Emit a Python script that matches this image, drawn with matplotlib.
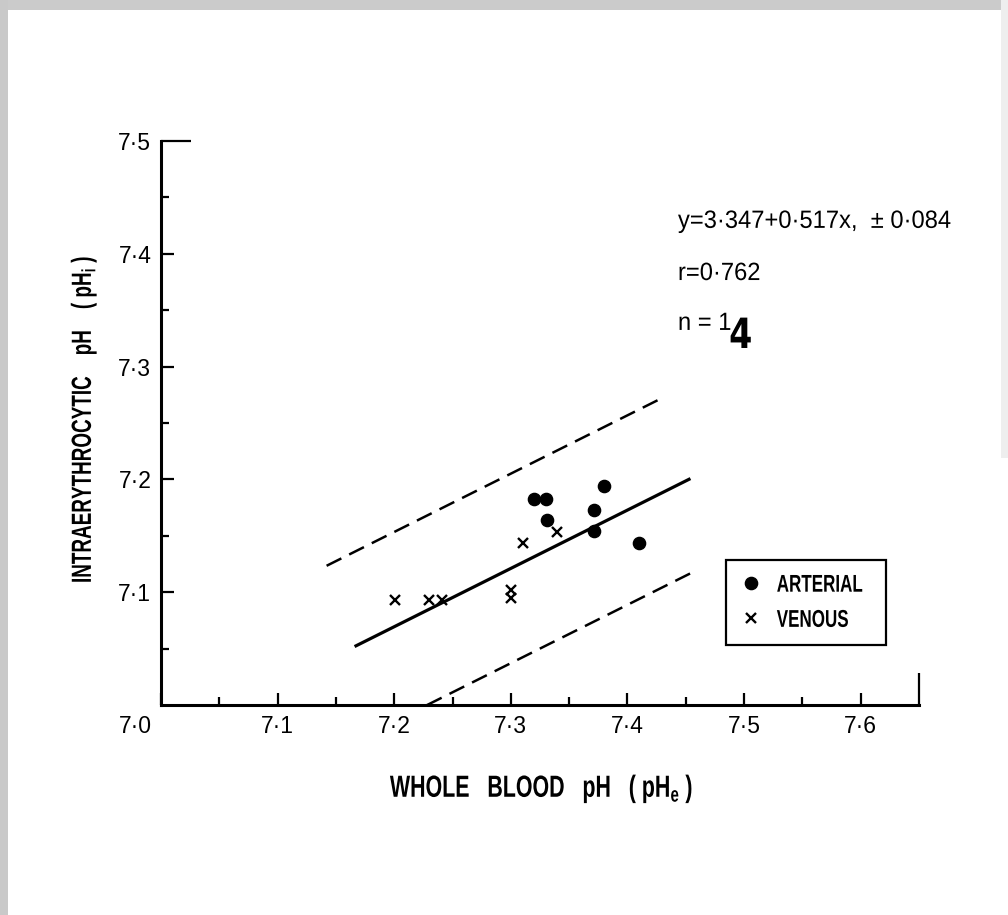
import matplotlib
matplotlib.use("Agg")
import numpy as np
import matplotlib.pyplot as plt
from matplotlib.patheffects import AbstractPathEffect
from matplotlib.transforms import Affine2D, ScaledTranslation
from matplotlib.patches import Rectangle

# ---- data -------------------------------------------------------------
arterial_phe = [7.320, 7.330, 7.331, 7.380, 7.371, 7.371, 7.410]
arterial_phi = [7.183, 7.183, 7.164, 7.194, 7.173, 7.154, 7.144]
venous_phe = [7.201, 7.230, 7.241, 7.300, 7.300, 7.310, 7.340]
venous_phi = [7.093, 7.093, 7.093, 7.102, 7.095, 7.144, 7.153]

# regression pHi = a + b * pHe, with the +/- band
fit_intercept = 3.347
fit_slope = 0.517
fit_band = 0.084
fit_range = [7.166, 7.454]
upper_range = [7.142, 7.427]
lower_range = [7.228, 7.455]

x_major = [7.0, 7.1, 7.2, 7.3, 7.4, 7.5, 7.6, 7.65]
x_major_labels = ["7·0", "7·1", "7·2", "7·3", "7·4", "7·5", "7·6", ""]
x_minor = [7.05, 7.15, 7.25, 7.35, 7.45, 7.55]
y_major = [7.1, 7.2, 7.3, 7.4, 7.5]
y_major_labels = ["7·1", "7·2", "7·3", "7·4", "7·5"]
y_minor = [7.05, 7.15, 7.25, 7.35, 7.45]

series_labels = ["ARTERIAL", "VENOUS"]
equation_text = "y=3·347+0·517x,  ± 0·084"
r_text = "r=0·762"
n_text = "n = 1"
n_correction = "4"


class Squeeze(AbstractPathEffect):
    """Draw text horizontally condensed, like narrow stencil lettering."""

    def __init__(self, factor):
        super().__init__()
        self._factor = factor

    def draw_path(self, renderer, gc, tpath, affine, rgbFace=None):
        renderer.draw_path(gc, tpath, Affine2D().scale(self._factor, 1.0) + affine, rgbFace)


plt.rcParams["font.family"] = ["Liberation Sans", "DejaVu Sans"]
plt.rcParams["mathtext.default"] = "regular"

fig = plt.figure(figsize=(10.08, 9.15), dpi=100)
fig.patch.set_facecolor("white")

# scanned page edges
fig.add_artist(Rectangle((0, 1 - 10 / 915), 1, 10 / 915, transform=fig.transFigure,
                         facecolor="#cbcbcb", edgecolor="none", zorder=0))
fig.add_artist(Rectangle((0, 0), 8 / 1008, 1, transform=fig.transFigure,
                         facecolor="#c9c9c9", edgecolor="none", zorder=0))
fig.add_artist(Rectangle((1 - 7 / 1008, 0.5), 7 / 1008, 0.5, transform=fig.transFigure,
                         facecolor="#eeeeee", edgecolor="none", zorder=0))

ax = fig.add_axes([161 / 1008, 1 - 705 / 915, 758 / 1008, 564 / 915])
ax.set_facecolor("none")
ax.set_xlim(7.0, 7.65)
ax.set_ylim(7.0, 7.5)

for side in ("top", "right"):
    ax.spines[side].set_visible(False)
for side in ("left", "bottom"):
    ax.spines[side].set_linewidth(2.2)
    ax.spines[side].set_capstyle("projecting")

ax.set_xticks(x_major)
ax.set_xticklabels(x_major_labels)
ax.set_xticks(x_minor, minor=True)
ax.set_yticks(y_major)
ax.set_yticklabels(y_major_labels)
ax.set_yticks(y_minor, minor=True)
ax.tick_params(which="major", direction="in", length=9, width=1.6, labelsize=16.5)
ax.tick_params(which="minor", direction="in", length=5.5, width=1.6)
ax.tick_params(axis="x", which="major", pad=7)
ax.tick_params(axis="y", which="major", pad=7)

# long end marks: top of the y axis and right end of the x axis
ax.yaxis.get_major_ticks()[-1].tick1line.set_markersize(21.5)
ax.xaxis.get_major_ticks()[-1].tick1line.set_markersize(23)
# the origin label sits left of the corner
origin_label = ax.xaxis.get_major_ticks()[0].label1
origin_label.set_transform(origin_label.get_transform()
                           + ScaledTranslation(-0.26, 0, fig.dpi_scale_trans))

# regression line and +/- band
fx = np.array(fit_range)
ax.plot(fx, fit_intercept + fit_slope * fx, color="black", lw=2.3,
        solid_capstyle="butt", zorder=2)
ux = np.array(upper_range)
ax.plot(ux, fit_intercept + fit_slope * ux + fit_band, color="black", lw=1.8,
        ls=(0, (6.6, 3.5)), dash_capstyle="butt", zorder=2)
lx = np.array(lower_range)
ax.plot(lx, fit_intercept + fit_slope * lx - fit_band, color="black", lw=1.8,
        ls=(0, (6.6, 3.5)), dash_capstyle="butt", zorder=2)

# observations
h_art, = ax.plot(arterial_phe, arterial_phi, ls="none", marker="o", ms=8.8,
                 color="black", label=series_labels[0], zorder=3)
h_ven, = ax.plot(venous_phe, venous_phi, ls="none", marker="x", ms=7.4, mew=1.7,
                 color="black", label=series_labels[1], zorder=3)

leg = ax.legend(handles=[h_art, h_ven], loc="lower left",
                bbox_to_anchor=(0.745, 0.106, 0.211, 0.155), mode="expand",
                borderaxespad=0, fancybox=False, framealpha=1, edgecolor="black",
                prop={"weight": "bold", "size": 17.5}, borderpad=0.55,
                handlelength=1.0, handletextpad=0.55, labelspacing=0.5)
leg.get_frame().set_linewidth(1.6)
for t in leg.get_texts():
    t.set_path_effects([Squeeze(0.7)])

# fit statistics
ax.text(0.682, 0.846, equation_text, transform=ax.transAxes, fontsize=18,
        ha="left", va="baseline", path_effects=[Squeeze(0.95)])
ax.text(0.682, 0.7535, r_text, transform=ax.transAxes, fontsize=18,
        ha="left", va="baseline", path_effects=[Squeeze(0.95)])
ax.text(0.682, 0.665, n_text, transform=ax.transAxes, fontsize=18,
        ha="left", va="baseline", path_effects=[Squeeze(0.95)])
ax.text(0.7495, 0.633, n_correction, transform=ax.transAxes, fontsize=30,
        fontweight="bold", family="DejaVu Sans", ha="left", va="baseline",
        path_effects=[Squeeze(0.8)])

# axis titles
ax.set_xlabel("WHOLE   BLOOD   pH   ( pH$\\mathregular{_e}$ )", fontsize=22,
              fontweight="bold", ha="left", va="baseline",
              path_effects=[Squeeze(0.7)])
ax.xaxis.set_label_coords(0.302, -0.163)
ax.set_ylabel("INTRAERYTHROCYTIC    pH    ( pH$\\mathregular{_i}$ )", fontsize=20,
              fontweight="bold", rotation=90, rotation_mode="anchor",
              ha="left", va="baseline", path_effects=[Squeeze(0.68)])
ax.yaxis.set_label_coords(-0.0923, 0.2163)

fig.savefig("out.png", dpi=100, facecolor="white")
